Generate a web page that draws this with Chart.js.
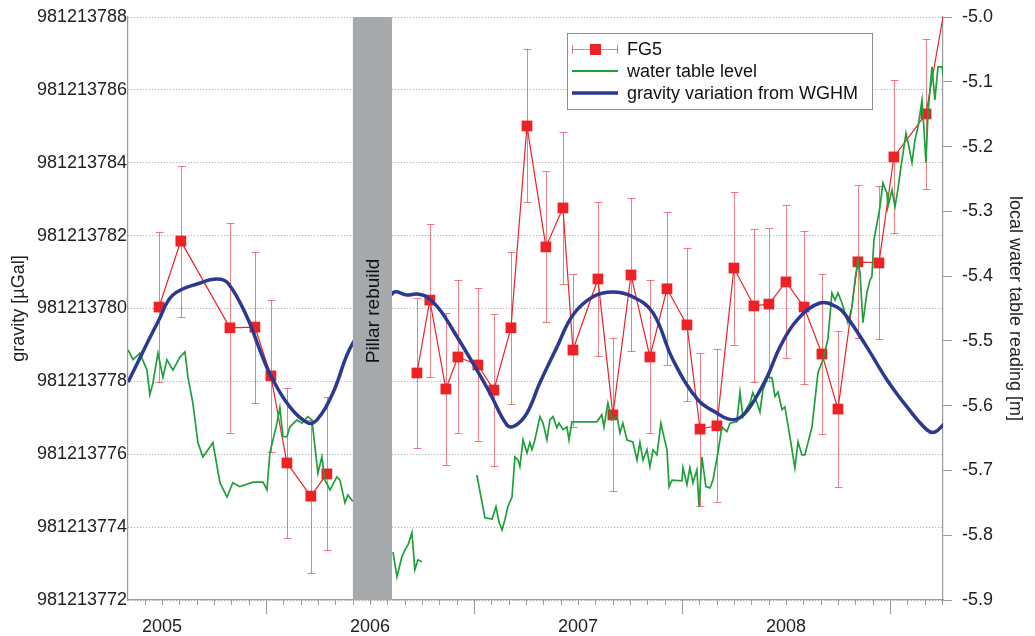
<!DOCTYPE html>
<html>
<head>
<meta charset="utf-8">
<script src="https://cdn.jsdelivr.net/npm/chart.js@4.4.1/dist/chart.umd.min.js"></script>
<style>
  html, body { margin: 0; padding: 0; background: #fff; }
  #wrap { position: relative; width: 1035px; height: 636px; }
</style>
</head>
<body>
<div id="wrap"><canvas id="chart"></canvas></div>
<script>
// Axis ranges
const X_MIN = 2004.837;
const X_MAX = 2008.755;
const YEAR_TICKS = [2005, 2006, 2007, 2008];
const G_MIN = 981213772;
const G_MAX = 981213788;
const W_MIN = -5.9;
const W_MAX = -5.0;
const PILLAR = [2005.918, 2006.106];

// FG5 absolute gravity (decimal year, µGal, error); null = no line across the pillar rebuild
const FG5_T = [2004.986, 2005.091, 2005.327, 2005.447, 2005.524, 2005.601, 2005.716, 2005.793,
  2006.000,
  2006.226, 2006.288, 2006.365, 2006.423, 2006.519, 2006.596, 2006.678, 2006.755, 2006.846, 2006.928, 2006.976,
  2007.096, 2007.168, 2007.255, 2007.346, 2007.428, 2007.524, 2007.587, 2007.668, 2007.750, 2007.846, 2007.918,
  2008.000, 2008.087, 2008.173, 2008.250, 2008.346, 2008.447, 2008.519, 2008.673, 2008.798];
const FG5_G = [981213780.04, 981213781.85, 981213779.47, 981213779.49, 981213778.15, 981213775.76, 981213774.85, 981213775.46,
  null,
  981213778.23, 981213780.23, 981213777.79, 981213778.67, 981213778.45, 981213777.76, 981213779.47, 981213785.01, 981213781.69, 981213782.76, 981213778.86,
  981213780.81, 981213777.08, 981213780.92, 981213778.67, 981213780.54, 981213779.55, 981213776.69, 981213776.78, 981213781.11, 981213780.07, 981213780.12,
  981213780.73, 981213780.04, 981213778.75, 981213777.24, 981213781.28, 981213781.25, 981213784.16, 981213785.34, 981213789.40];
const FG5_ERR = [2.05, 2.07, 2.88, 2.07, 2.08, 2.06, 2.1, 2.1,
  0,
  2.06, 2.1, 2.08, 2.1, 2.1, 2.08, 2.08, 2.1, 2.07, 2.08, 2.1,
  2.1, 2.1, 2.1, 2.1, 2.1, 2.1, 2.1, 2.1, 2.1, 2.1, 2.1,
  2.1, 2.1, 2.2, 2.15, 2.1, 2.1, 2.1, 2.05, 0];

// water table level (decimal year, m), null = data gap
const WATER_T = [2004.837, 2004.861, 2004.894, 2004.928, 2004.942, 2004.957, 2004.981, 2005.005, 2005.024, 2005.053,
  2005.087, 2005.111, 2005.125, 2005.149, 2005.173, 2005.197, 2005.231, 2005.245, 2005.279, 2005.313,
  2005.341, 2005.375, 2005.438, 2005.486, 2005.505, 2005.519, 2005.553, 2005.567, 2005.582, 2005.601,
  2005.615, 2005.649, 2005.673, 2005.702, 2005.721, 2005.736, 2005.750, 2005.769, 2005.784, 2005.808,
  2005.841, 2005.856, 2005.880, 2005.894, 2005.918,
  2006.000,
  2006.111, 2006.130, 2006.154, 2006.168, 2006.183, 2006.202, 2006.216, 2006.231, 2006.250,
  2006.400,
  2006.514, 2006.553, 2006.587, 2006.606, 2006.620, 2006.635, 2006.649, 2006.663, 2006.683, 2006.697,
  2006.712, 2006.721, 2006.736, 2006.755, 2006.769, 2006.779, 2006.793, 2006.817, 2006.832, 2006.851,
  2006.865, 2006.880, 2006.899, 2006.909, 2006.928, 2006.947, 2006.957, 2006.971, 2007.091, 2007.115,
  2007.125, 2007.144, 2007.163, 2007.188, 2007.202, 2007.216, 2007.236, 2007.264, 2007.284, 2007.298,
  2007.313, 2007.332, 2007.346, 2007.361, 2007.380, 2007.399, 2007.409, 2007.428, 2007.438, 2007.452,
  2007.500, 2007.505, 2007.524, 2007.538, 2007.553, 2007.572, 2007.582, 2007.596, 2007.615, 2007.635,
  2007.649, 2007.673, 2007.692, 2007.716, 2007.731, 2007.764, 2007.779, 2007.793, 2007.813, 2007.827,
  2007.841, 2007.861, 2007.875, 2007.889, 2007.913, 2007.933, 2007.947, 2007.962, 2007.981, 2007.995,
  2008.019, 2008.043, 2008.058, 2008.077, 2008.091, 2008.125, 2008.154, 2008.178, 2008.202, 2008.221,
  2008.236, 2008.250, 2008.269, 2008.284, 2008.298, 2008.317, 2008.332, 2008.346, 2008.356, 2008.370,
  2008.389, 2008.404, 2008.413, 2008.423, 2008.438, 2008.452, 2008.466, 2008.486, 2008.490, 2008.510,
  2008.524, 2008.538, 2008.553, 2008.563, 2008.577, 2008.587, 2008.606, 2008.620, 2008.635, 2008.654,
  2008.663, 2008.673, 2008.683, 2008.702, 2008.716, 2008.731, 2008.750, 2008.760];
const WATER_M = [-5.514, -5.529, -5.519, -5.545, -5.583, -5.565, -5.519, -5.556, -5.529, -5.545,
  -5.525, -5.517, -5.556, -5.596, -5.657, -5.679, -5.664, -5.657, -5.719, -5.741,
  -5.719, -5.725, -5.718, -5.718, -5.730, -5.673, -5.627, -5.603, -5.648, -5.648,
  -5.633, -5.622, -5.627, -5.617, -5.622, -5.664, -5.704, -5.679, -5.715, -5.730,
  -5.710, -5.715, -5.750, -5.738, -5.748,
  null,
  -5.826, -5.864, -5.833, -5.823, -5.815, -5.796, -5.853, -5.838, -5.841,
  null,
  -5.707, -5.773, -5.775, -5.756, -5.779, -5.792, -5.776, -5.756, -5.741, -5.679,
  -5.684, -5.694, -5.653, -5.673, -5.657, -5.668, -5.653, -5.617, -5.627, -5.653,
  -5.622, -5.617, -5.634, -5.627, -5.637, -5.633, -5.653, -5.625, -5.625, -5.614,
  -5.633, -5.596, -5.622, -5.617, -5.642, -5.627, -5.653, -5.656, -5.684, -5.657,
  -5.684, -5.668, -5.694, -5.668, -5.676, -5.627, -5.642, -5.668, -5.725, -5.715,
  -5.716, -5.696, -5.722, -5.696, -5.719, -5.699, -5.756, -5.679, -5.725, -5.727,
  -5.715, -5.673, -5.633, -5.640, -5.627, -5.625, -5.579, -5.617, -5.603, -5.596,
  -5.580, -5.596, -5.610, -5.576, -5.556, -5.557, -5.586, -5.579, -5.606, -5.602,
  -5.648, -5.696, -5.656, -5.676, -5.676, -5.633, -5.549, -5.529, -5.497, -5.426,
  -5.437, -5.426, -5.441, -5.457, -5.472, -5.448, -5.406, -5.375, -5.395, -5.472,
  -5.426, -5.406, -5.401, -5.344, -5.318, -5.293, -5.256, -5.272, -5.293, -5.267,
  -5.293, -5.267, -5.231, -5.210, -5.179, -5.194, -5.225, -5.190, -5.170, -5.128,
  -5.170, -5.225, -5.148, -5.077, -5.128, -5.077, -5.077, -5.097];

// gravity variation from WGHM model (decimal year, µGal)
const WGHM_T = [2004.837, 2004.986, 2005.053, 2005.183, 2005.264, 2005.317, 2005.409, 2005.471, 2005.524, 2005.615,
  2005.702, 2005.745, 2005.822, 2005.918, 2006.111, 2006.178, 2006.226, 2006.274, 2006.337, 2006.399,
  2006.495, 2006.577, 2006.659, 2006.697, 2006.755, 2006.817, 2006.899, 2006.976, 2007.072, 2007.168,
  2007.264, 2007.361, 2007.457, 2007.577, 2007.668, 2007.721, 2007.769, 2007.827, 2007.909, 2007.971,
  2008.053, 2008.163, 2008.245, 2008.293, 2008.389, 2008.486, 2008.582, 2008.678, 2008.716, 2008.760];
const WGHM_G = [981213777.98, 981213779.69, 981213780.37, 981213780.70, 981213780.81, 981213780.70, 981213779.77, 981213778.86, 981213778.15, 981213777.30,
  981213776.86, 981213776.94, 981213777.68, 981213779.05, 981213780.43, 981213780.37, 981213780.40, 981213780.32, 981213779.96, 981213779.41,
  981213778.50, 981213777.68, 981213776.80, 981213776.78, 981213777.13, 981213777.96, 981213778.94, 981213779.82, 981213780.32, 981213780.45,
  981213780.32, 981213779.88, 981213778.59, 981213777.49, 981213777.13, 981213776.97, 981213776.97, 981213777.30, 981213778.12, 981213778.94,
  981213779.68, 981213780.15, 981213780.04, 981213779.77, 981213778.94, 981213778.04, 981213777.30, 981213776.67, 981213776.61, 981213776.83];

const RED = "#ec2227";
const ERR_COLOR = "rgba(232,80,90,0.75)";
const GREEN = "#1f9f3a";
const BLUE = "#2b3990";
const AXIS_GRAY = "#9a9a9a";
const FONT = "'Liberation Sans', Arial, sans-serif";

const toXY = (xs, ys) => xs.map((x, i) => ({ x: x, y: ys[i] }));

// keep the plot area flush with the top padding
const trimPadding = (scale) => { scale.paddingTop = 0; scale.paddingBottom = 0; };

// error bars, pillar, x tick marks, legend
const decorPlugin = {
  id: "decor",
  beforeDatasetsDraw(chart) {
    const { ctx, chartArea: a, scales: { x, y } } = chart;
    ctx.save();
    ctx.beginPath();
    ctx.rect(a.left, a.top, a.right - a.left, a.bottom - a.top);
    ctx.clip();
    ctx.strokeStyle = ERR_COLOR;
    ctx.lineWidth = 1;
    FG5_T.forEach((t, i) => {
      const e = FG5_ERR[i];
      if (!e || FG5_G[i] === null) return;
      const px = Math.round(x.getPixelForValue(t)) + 0.5;
      const top = Math.round(y.getPixelForValue(FG5_G[i] + e)) + 0.5;
      const bot = Math.round(y.getPixelForValue(FG5_G[i] - e)) + 0.5;
      ctx.beginPath();
      ctx.moveTo(px, top); ctx.lineTo(px, bot);
      ctx.moveTo(px - 4, top); ctx.lineTo(px + 4, top);
      ctx.moveTo(px - 4, bot); ctx.lineTo(px + 4, bot);
      ctx.stroke();
    });
    ctx.restore();
  },
  afterDatasetsDraw(chart) {
    const { ctx, chartArea: a, scales: { x } } = chart;
    ctx.save();

    // pillar rebuild band
    const x0 = x.getPixelForValue(PILLAR[0]);
    const x1 = x.getPixelForValue(PILLAR[1]);
    ctx.fillStyle = "#a6a9ac";
    ctx.fillRect(x0, a.top, x1 - x0, a.bottom - a.top);
    ctx.save();
    ctx.translate((x0 + x1) / 2, 311);
    ctx.rotate(-Math.PI / 2);
    ctx.fillStyle = "#111";
    ctx.font = "19px " + FONT;
    ctx.textAlign = "center";
    ctx.textBaseline = "middle";
    ctx.fillText("Pillar rebuild", 0, 1);
    ctx.restore();

    // monthly tick marks, long ones at mid-year
    ctx.strokeStyle = AXIS_GRAY;
    ctx.lineWidth = 1;
    for (let yr = 2004; yr <= 2009; yr++) {
      for (let m = 0; m < 12; m++) {
        const t = yr + m / 12;
        if (t < X_MIN || t > X_MAX) continue;
        const px = Math.round(x.getPixelForValue(t)) + 0.5;
        ctx.beginPath();
        ctx.moveTo(px, a.bottom);
        ctx.lineTo(px, a.bottom + (m === 6 ? 14 : 5));
        ctx.stroke();
      }
    }

    // legend
    const lx = 567, ly = 33, lw = 305, lh = 76;
    ctx.fillStyle = "#fff";
    ctx.fillRect(lx, ly, lw, lh);
    ctx.strokeStyle = "#8c8c8c";
    ctx.strokeRect(lx + 0.5, ly + 0.5, lw, lh);
    const rows = [49, 71, 93];
    // FG5 symbol
    ctx.strokeStyle = ERR_COLOR;
    ctx.beginPath();
    ctx.moveTo(572, rows[0] + 0.5); ctx.lineTo(618, rows[0] + 0.5);
    ctx.moveTo(572.5, rows[0] - 4); ctx.lineTo(572.5, rows[0] + 5);
    ctx.moveTo(617.5, rows[0] - 4); ctx.lineTo(617.5, rows[0] + 5);
    ctx.stroke();
    ctx.fillStyle = RED;
    ctx.fillRect(590, rows[0] - 5, 11, 11);
    ctx.strokeStyle = GREEN;
    ctx.lineWidth = 2;
    ctx.beginPath(); ctx.moveTo(572, rows[1]); ctx.lineTo(618, rows[1]); ctx.stroke();
    ctx.strokeStyle = BLUE;
    ctx.lineWidth = 3.5;
    ctx.beginPath(); ctx.moveTo(572, rows[2]); ctx.lineTo(618, rows[2]); ctx.stroke();
    ctx.fillStyle = "#111";
    ctx.font = "18px " + FONT;
    ctx.textAlign = "left";
    ctx.textBaseline = "middle";
    ["FG5", "water table level", "gravity variation from WGHM"].forEach((s, i) => {
      ctx.fillText(s, 627, rows[i] + 1);
    });
    ctx.restore();
  }
};

new Chart(document.getElementById("chart"), {
  type: "line",
  data: {
    datasets: [
      {
        label: "gravity variation from WGHM",
        data: toXY(WGHM_T, WGHM_G),
        yAxisID: "y",
        borderColor: BLUE,
        borderWidth: 3.5,
        pointRadius: 0,
        tension: 0.4,
        order: 0
      },
      {
        label: "water table level",
        data: toXY(WATER_T, WATER_M),
        yAxisID: "y1",
        borderColor: GREEN,
        borderWidth: 1.7,
        pointRadius: 0,
        tension: 0,
        spanGaps: false,
        order: 1
      },
      {
        label: "FG5",
        data: toXY(FG5_T, FG5_G),
        yAxisID: "y",
        borderColor: RED,
        borderWidth: 1.2,
        pointStyle: "rect",
        pointRadius: 7.6,
        pointBorderWidth: 0,
        pointBackgroundColor: RED,
        tension: 0,
        spanGaps: false,
        order: 2
      }
    ]
  },
  options: {
    responsive: true,
    maintainAspectRatio: false,
    animation: false,
    devicePixelRatio: 1,
    layout: { padding: { top: 17, left: 0, right: 0, bottom: 0 } },
    plugins: {
      legend: { display: false },
      tooltip: { enabled: false }
    },
    scales: {
      x: {
        type: "linear",
        min: X_MIN,
        max: X_MAX,
        afterBuildTicks: (scale) => { scale.ticks = YEAR_TICKS.map(v => ({ value: v })); },
        afterFit: (scale) => { scale.height = 36; },
        grid: { display: false, drawTicks: false },
        border: { display: true, color: AXIS_GRAY, width: 1.2 },
        ticks: {
          color: "#222",
          font: { size: 18, family: FONT },
          padding: 16,
          maxRotation: 0,
          autoSkip: false,
          callback: (v) => String(v)
        }
      },
      y: {
        position: "left",
        min: G_MIN,
        max: G_MAX,
        afterFit: (scale) => { scale.width = 128; trimPadding(scale); },
        grid: { color: "#a0a0a0", lineWidth: 1, drawTicks: false },
        border: { display: true, color: AXIS_GRAY, width: 1.2, dash: [1, 2] },
        title: {
          display: true,
          text: "gravity [µGal]",
          color: "#222",
          font: { size: 18, family: FONT },
          padding: { top: 8, bottom: 0 }
        },
        ticks: {
          stepSize: 2,
          color: "#222",
          font: { size: 18, family: FONT },
          padding: 1,
          callback: (v) => Math.round(v).toString()
        }
      },
      y1: {
        position: "right",
        min: W_MIN,
        max: W_MAX,
        afterFit: (scale) => { scale.width = 92; trimPadding(scale); },
        grid: { drawOnChartArea: false, color: AXIS_GRAY, tickLength: 9 },
        border: { display: true, color: AXIS_GRAY, width: 1.2 },
        title: {
          display: true,
          text: "local water table reading [m]",
          color: "#222",
          font: { size: 18, family: FONT },
          padding: { top: 9, bottom: 0 }
        },
        ticks: {
          stepSize: 0.1,
          color: "#222",
          font: { size: 18, family: FONT },
          padding: 10,
          callback: (v) => v.toFixed(1)
        }
      }
    }
  },
  plugins: [decorPlugin]
});
</script>
</body>
</html>
